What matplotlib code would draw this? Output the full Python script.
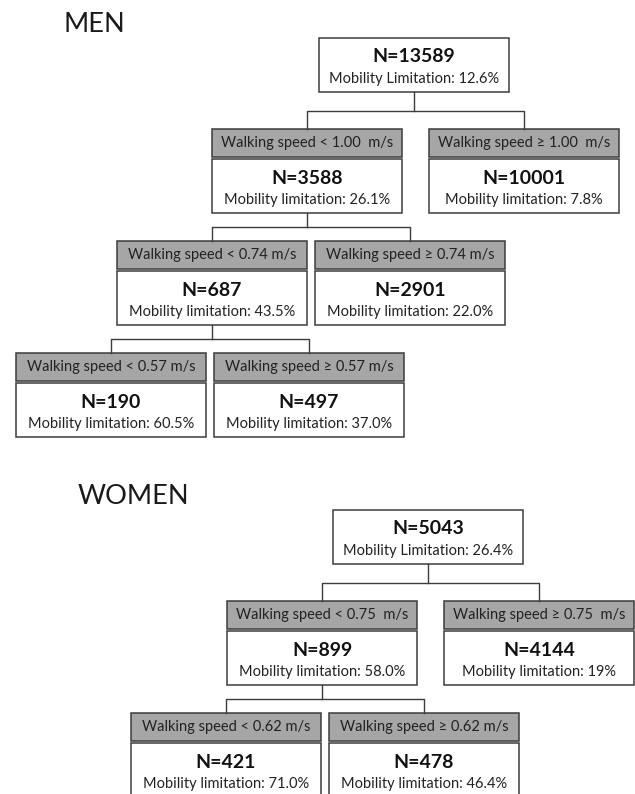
import matplotlib
matplotlib.use('Agg')
import matplotlib.pyplot as plt
from matplotlib.patches import Rectangle

plt.rcParams['font.family'] = ['Lato', 'DejaVu Sans']

# data
men_root_n = 13589
men_root_pct = '12.6%'
men_cuts = ['1.00  m/s', '0.74 m/s', '0.57 m/s']
men_low_n = [3588, 687, 190]
men_low_pct = ['26.1%', '43.5%', '60.5%']
men_high_n = [10001, 2901, 497]
men_high_pct = ['7.8%', '22.0%', '37.0%']

women_root_n = 5043
women_root_pct = '26.4%'
women_cuts = ['0.75  m/s', '0.62 m/s']
women_low_n = [899, 421]
women_low_pct = ['58.0%', '71.0%']
women_high_n = [4144, 478]
women_high_pct = ['19%', '46.4%']

# layout (pixel units)
BW = 190
WH = 54
GH = 28
EDGE = '#3c3c3c'
GREY = '#a6a6a6'

fig = plt.figure(figsize=(6.35, 7.94), dpi=100)
ax = fig.add_axes([0, 0, 1, 1])
ax.set_xlim(0, 635)
ax.set_ylim(794, 0)
ax.axis('off')


def node(cx, top, n, label):
    ax.add_patch(Rectangle((cx - BW / 2, top), BW, WH, fc='white', ec=EDGE, lw=1.1))
    ax.text(cx, top + 19, f'N={n}', ha='center', va='center',
            fontsize=14, fontweight='bold', color='#111111')
    ax.text(cx, top + 41, label, ha='center', va='center', fontsize=10.5, color='#222222')


def split(cx, top, text):
    ax.add_patch(Rectangle((cx - BW / 2, top), BW, GH, fc=GREY, ec=EDGE, lw=1.1))
    ax.text(cx, top + GH / 2, text, ha='center', va='center', fontsize=10.5, color='#222222')


def tree(title, title_x, cx, top, root_n, root_pct, cuts, low_n, low_pct,
         high_n, high_pct, shifts, gaps):
    ax.text(title_x, top - 6, title, fontsize=19.5, fontweight='normal',
            ha='left', va='baseline', color='#1a1a1a')
    node(cx, top, root_n, 'Mobility Limitation: ' + root_pct)
    parent_bottom = top + WH
    grey_top = top + 91
    for i, cut in enumerate(cuts):
        lx = cx - shifts[i]
        rx = lx + BW + gaps[i]
        ymid = (parent_bottom + grey_top) / 2
        ax.plot([cx, cx], [parent_bottom, ymid], color=EDGE, lw=1)
        ax.plot([lx, lx, rx, rx], [grey_top, ymid, ymid, grey_top], color=EDGE, lw=1)
        split(lx, grey_top, 'Walking speed < ' + cut)
        split(rx, grey_top, 'Walking speed \u2265 ' + cut)
        node(lx, grey_top + GH + 2, low_n[i], 'Mobility limitation: ' + low_pct[i])
        node(rx, grey_top + GH + 2, high_n[i], 'Mobility limitation: ' + high_pct[i])
        cx = lx
        parent_bottom = grey_top + GH + 2 + WH
        grey_top += 112


tree('MEN', 64, 414, 38, men_root_n, men_root_pct, men_cuts, men_low_n, men_low_pct,
     men_high_n, men_high_pct, [107, 95, 101], [27, 8, 8])
tree('WOMEN', 78, 428, 510, women_root_n, women_root_pct, women_cuts, women_low_n,
     women_low_pct, women_high_n, women_high_pct, [106, 96], [27, 8])

fig.savefig('out.png', dpi=100)
